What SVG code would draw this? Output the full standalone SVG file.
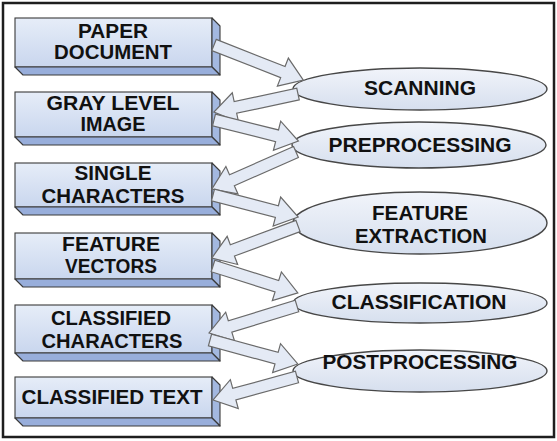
<svg xmlns="http://www.w3.org/2000/svg" width="557" height="441" viewBox="0 0 557 441">
<defs>
<linearGradient id="gFront" x1="0" y1="0" x2="0" y2="1">
<stop offset="0" stop-color="#e6edf8"/>
<stop offset="1" stop-color="#c9d6ee"/>
</linearGradient>
<linearGradient id="gEll" x1="0" y1="0" x2="0" y2="1">
<stop offset="0" stop-color="#f1f4fa"/>
<stop offset="1" stop-color="#d6dfee"/>
</linearGradient>
<style>
.front{fill:url(#gFront);stroke:#3a3a3a;stroke-width:1.1}
.side{fill:#a3b8e0;stroke:#3a3a3a;stroke-width:1.1;stroke-linejoin:round}
.bottom{fill:#98aedb;stroke:#3a3a3a;stroke-width:1.1;stroke-linejoin:round}
.ell{fill:url(#gEll);stroke:#474747;stroke-width:1.4}
.arr{fill:#e4eaf5;stroke:#6a6a6a;stroke-width:1.2;stroke-linejoin:miter}
text{font-family:"Liberation Sans",Arial,sans-serif;font-weight:bold;font-size:20.5px;fill:#111111;text-anchor:middle}
</style>
</defs>
<rect x="0" y="0" width="557" height="441" fill="#ffffff"/>
<rect x="3" y="3" width="551" height="434" fill="#ffffff" stroke="#1e1e1e" stroke-width="2.5"/>

<g id="box-paper-document">
<rect class="front" x="15" y="18" width="197" height="49"/>
<polygon class="side" points="212,18 220,26 220,75 212,67"/>
<polygon class="bottom" points="15,67 212,67 220,75 23,75"/>
<text x="113" y="38" textLength="70" lengthAdjust="spacingAndGlyphs">PAPER</text>
<text x="113" y="59" textLength="118" lengthAdjust="spacingAndGlyphs">DOCUMENT</text>
</g>
<g id="box-gray-level-image">
<rect class="front" x="15" y="92" width="197" height="45"/>
<polygon class="side" points="212,92 220,100 220,145 212,137"/>
<polygon class="bottom" points="15,137 212,137 220,145 23,145"/>
<text x="113" y="110" textLength="133" lengthAdjust="spacingAndGlyphs">GRAY LEVEL</text>
<text x="113" y="131" textLength="65" lengthAdjust="spacingAndGlyphs">IMAGE</text>
</g>
<g id="box-single-characters">
<rect class="front" x="15" y="163" width="197" height="44"/>
<polygon class="side" points="212,163 220,171 220,215 212,207"/>
<polygon class="bottom" points="15,207 212,207 220,215 23,215"/>
<text x="113" y="180" textLength="77" lengthAdjust="spacingAndGlyphs">SINGLE</text>
<text x="113" y="203" textLength="143" lengthAdjust="spacingAndGlyphs">CHARACTERS</text>
</g>
<g id="box-feature-vectors">
<rect class="front" x="15" y="233" width="197" height="46"/>
<polygon class="side" points="212,233 220,241 220,287 212,279"/>
<polygon class="bottom" points="15,279 212,279 220,287 23,287"/>
<text x="111" y="251" textLength="98" lengthAdjust="spacingAndGlyphs">FEATURE</text>
<text x="111" y="273" textLength="92" lengthAdjust="spacingAndGlyphs">VECTORS</text>
</g>
<g id="box-classified-characters">
<rect class="front" x="15" y="305" width="197" height="48"/>
<polygon class="side" points="212,305 220,313 220,361 212,353"/>
<polygon class="bottom" points="15,353 212,353 220,361 23,361"/>
<text x="111" y="325" textLength="120" lengthAdjust="spacingAndGlyphs">CLASSIFIED</text>
<text x="112" y="348" textLength="141" lengthAdjust="spacingAndGlyphs">CHARACTERS</text>
</g>
<g id="box-classified-text">
<rect class="front" x="15" y="377" width="197" height="41"/>
<polygon class="side" points="212,377 220,385 220,426 212,418"/>
<polygon class="bottom" points="15,418 212,418 220,426 23,426"/>
<text x="112" y="404" textLength="181" lengthAdjust="spacingAndGlyphs">CLASSIFIED TEXT</text>
</g>

<g id="ell-scanning">
<ellipse class="ell" cx="420" cy="89" rx="127" ry="21"/>
<text x="420" y="95" textLength="112" lengthAdjust="spacingAndGlyphs">SCANNING</text>
</g>
<g id="ell-preprocessing">
<ellipse class="ell" cx="419" cy="145" rx="127" ry="23"/>
<text x="420" y="152" textLength="183" lengthAdjust="spacingAndGlyphs">PREPROCESSING</text>
</g>
<g id="ell-feature-extraction">
<ellipse class="ell" cx="420" cy="223" rx="127" ry="31"/>
<text x="420" y="220" textLength="96" lengthAdjust="spacingAndGlyphs">FEATURE</text>
<text x="421" y="243" textLength="132" lengthAdjust="spacingAndGlyphs">EXTRACTION</text>
</g>
<g id="ell-classification">
<ellipse class="ell" cx="420" cy="303" rx="127" ry="20"/>
<text x="419" y="309" textLength="175" lengthAdjust="spacingAndGlyphs">CLASSIFICATION</text>
</g>
<g id="ell-postprocessing">
<ellipse class="ell" cx="420" cy="371" rx="127" ry="21"/>
<text x="420" y="369" textLength="195" lengthAdjust="spacingAndGlyphs">POSTPROCESSING</text>
</g>

<g id="connectors">
<polygon class="arr" transform="translate(214,45) rotate(21.47)" points="0,-6 74,-6 74,-15 96,0 74,15 74,6 0,6"/>
<polygon class="arr" transform="translate(298,94) rotate(167.91)" points="0,-6 64,-6 64,-15 86,0 64,15 64,6 0,6"/>
<polygon class="arr" transform="translate(214,120) rotate(14.04)" points="0,-6 65,-6 65,-15 87,0 65,15 65,6 0,6"/>
<polygon class="arr" transform="translate(296,152) rotate(156.23)" points="0,-6 70,-6 70,-15 92,0 70,15 70,6 0,6"/>
<polygon class="arr" transform="translate(213,195) rotate(14.51)" points="0,-6 66,-6 66,-15 88,0 66,15 66,6 0,6"/>
<polygon class="arr" transform="translate(298,226) rotate(159.59)" points="0,-6 70,-6 70,-15 92,0 70,15 70,6 0,6"/>
<polygon class="arr" transform="translate(213,266) rotate(17.62)" points="0,-6 67,-6 67,-15 89,0 67,15 67,6 0,6"/>
<polygon class="arr" transform="translate(297,306) rotate(162.94)" points="0,-6 70,-6 70,-15 92,0 70,15 70,6 0,6"/>
<polygon class="arr" transform="translate(210,340) rotate(15.26)" points="0,-6 69,-6 69,-15 91,0 69,15 69,6 0,6"/>
<polygon class="arr" transform="translate(297,377) rotate(164.69)" points="0,-6 65,-6 65,-15 87,0 65,15 65,6 0,6"/>
</g>
</svg>
